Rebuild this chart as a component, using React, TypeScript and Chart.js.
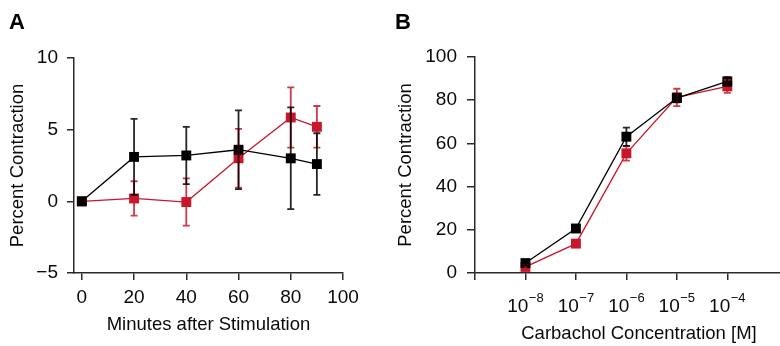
import React, { useEffect, useRef } from "react";
import { Chart, registerables } from "chart.js";

Chart.register(...registerables);

// ---------- Panel A data ----------
const minutes = [0, 20, 40, 60, 80, 90];
const blackA = [0, 3.1, 3.2, 3.6, 3.0, 2.6];
const blackAErr = [0, 2.65, 2.0, 2.75, 3.55, 2.15];
const redA = [0, 0.2, -0.05, 3.0, 5.85, 5.2];
const redAErr = [0, 1.2, 1.65, 2.05, 2.1, 1.45];
const xTicksA = [0, 20, 40, 60, 80, 100];
const yTicksA = [-5, 0, 5, 10];

// ---------- Panel B data ----------
const concExponents = [-8, -7, -6, -5, -4];
const blackB = [4.6, 20.6, 63.1, 81.0, 88.7];
const blackBErr = [1, 1.2, 4.2, 2, 2];
const redB = [2.8, 13.6, 55.4, 81.3, 86.4];
const redBErr = [1, 1.5, 3.4, 4, 3];
const xTicksB = [-9, -8, -7, -6, -5, -4];
const yTicksB = [0, 20, 40, 60, 80, 100];

const FONT = "'Liberation Sans', Arial, Helvetica, sans-serif";
const RED = "#c8162b";
const AXIS = "#2a2a2a";
const TXT = "#0a0a0a";

const toPts = (xs: number[], ys: number[]) => xs.map((x, i) => ({ x, y: ys[i] }));

const errorBarPlugin = (sets: { xs: number[]; ys: number[]; err: number[]; color: string }[]) => ({
  id: "errbars",
  afterDatasetsDraw(chart: any) {
    const { ctx } = chart;
    const xs = chart.scales.x;
    const ys = chart.scales.y;
    ctx.save();
    sets.forEach((s) => {
      ctx.strokeStyle = s.color;
      ctx.lineWidth = 1.8;
      s.xs.forEach((xv, i) => {
        if (!s.err[i]) return;
        const px = xs.getPixelForValue(xv);
        const top = ys.getPixelForValue(s.ys[i] + s.err[i]);
        const bot = ys.getPixelForValue(s.ys[i] - s.err[i]);
        ctx.beginPath();
        ctx.moveTo(px, top);
        ctx.lineTo(px, bot);
        ctx.moveTo(px - 3.5, top);
        ctx.lineTo(px + 3.5, top);
        ctx.moveTo(px - 3.5, bot);
        ctx.lineTo(px + 3.5, bot);
        ctx.stroke();
      });
    });
    ctx.restore();
  },
});

const supLabelsPlugin = {
  id: "supLabels",
  afterDraw(chart: any) {
    const { ctx } = chart;
    const xs = chart.scales.x;
    ctx.save();
    ctx.fillStyle = TXT;
    ctx.textBaseline = "alphabetic";
    ctx.textAlign = "left";
    concExponents.forEach((e) => {
      const base = "10";
      const sup = "\u2212" + Math.abs(e);
      ctx.font = `19px ${FONT}`;
      const wB = ctx.measureText(base).width;
      ctx.font = `13px ${FONT}`;
      const wS = ctx.measureText(sup).width;
      const px = xs.getPixelForValue(e);
      const x0 = px - (wB + wS + 0.5) / 2;
      ctx.font = `19px ${FONT}`;
      ctx.fillText(base, x0, 311.5);
      ctx.font = `13px ${FONT}`;
      ctx.fillText(sup, x0 + wB + 0.5, 301.5);
    });
    ctx.restore();
  },
};

const lineDs = (label: string, data: any[], color: string) => ({
  label,
  data,
  borderColor: color,
  backgroundColor: color,
  borderWidth: 1.3,
  pointStyle: "rect",
  pointRadius: 7,
  pointBorderWidth: 0,
  pointBackgroundColor: color,
  tension: 0,
});

const axisCommon = {
  grid: { display: true, drawOnChartArea: false, drawTicks: true, tickLength: 7, color: AXIS, lineWidth: 1.5 },
  border: { display: true, color: AXIS, width: 1.5 },
};

function PanelA() {
  const ref = useRef<HTMLCanvasElement>(null);
  useEffect(() => {
    const chart = new Chart(ref.current!, {
      type: "line",
      data: {
        datasets: [
          lineDs("Black", toPts(minutes, blackA), "#000"),
          lineDs("Red", toPts(minutes, redA), RED),
        ],
      },
      options: {
        animation: false,
        responsive: false,
        devicePixelRatio: 1,
        layout: { padding: { top: 58, right: 47, bottom: 0, left: 0 } },
        plugins: { legend: { display: false }, tooltip: { enabled: false } },
        scales: {
          x: {
            type: "linear",
            min: -3,
            max: 100,
            afterBuildTicks: (s: any) => { s.ticks = xTicksA.map((v) => ({ value: v })); },
            afterFit: (s: any) => { s.height = 73; },
            ...axisCommon,
            ticks: { color: TXT, font: { size: 19, family: FONT }, padding: 6, maxRotation: 0 },
            title: { display: true, text: "Minutes after Stimulation", color: TXT, font: { size: 18.5, family: FONT }, padding: { top: 0, bottom: 10 } },
          },
          y: {
            min: -5,
            max: 10,
            afterBuildTicks: (s: any) => { s.ticks = yTicksA.map((v) => ({ value: v })); },
            afterFit: (s: any) => { s.width = 74; },
            ...axisCommon,
            ticks: { color: TXT, font: { size: 19, family: FONT }, padding: 9, callback: (v: any) => (v < 0 ? "\u2212" + Math.abs(v) : String(v)) },
            title: { display: true, text: "Percent Contraction", color: TXT, font: { size: 18.5, family: FONT }, padding: { top: 7, bottom: 0 } },
          },
        },
      } as any,
      plugins: [
        errorBarPlugin([
          { xs: minutes, ys: redA, err: redAErr, color: "rgba(200,22,43,0.85)" },
          { xs: minutes, ys: blackA, err: blackAErr, color: "rgba(0,0,0,0.85)" },
        ]),
      ],
    });
    return () => chart.destroy();
  }, []);
  return <canvas ref={ref} width={390} height={346} style={{ position: "absolute", left: 0, top: 0, width: 390, height: 346 }} />;
}

function PanelB() {
  const ref = useRef<HTMLCanvasElement>(null);
  useEffect(() => {
    const chart = new Chart(ref.current!, {
      type: "line",
      data: {
        datasets: [
          lineDs("Black", toPts(concExponents, blackB), "#000"),
          lineDs("Red", toPts(concExponents, redB), RED),
        ],
      },
      options: {
        animation: false,
        responsive: false,
        devicePixelRatio: 1,
        layout: { padding: { top: 57, right: 0, bottom: 0, left: 0 } },
        plugins: { legend: { display: false }, tooltip: { enabled: false } },
        scales: {
          x: {
            type: "linear",
            min: -9,
            max: -2.5,
            afterBuildTicks: (s: any) => { s.ticks = xTicksB.map((v) => ({ value: v })); },
            afterFit: (s: any) => { s.height = 73; },
            ...axisCommon,
            ticks: { display: false },
            title: { display: true, text: "Carbachol Concentration [M]", color: TXT, font: { size: 18.5, family: FONT }, padding: { top: 0, bottom: 1 } },
          },
          y: {
            min: 0,
            max: 100,
            afterBuildTicks: (s: any) => { s.ticks = yTicksB.map((v) => ({ value: v })); },
            afterFit: (s: any) => { s.width = 85; },
            ...axisCommon,
            grid: { ...axisCommon.grid, tickLength: 8 },
            ticks: { color: TXT, font: { size: 19, family: FONT }, padding: 10 },
            title: { display: true, text: "Percent Contraction", color: TXT, font: { size: 18.5, family: FONT }, padding: { top: 5, bottom: 0 } },
          },
        },
      } as any,
      plugins: [
        errorBarPlugin([
          { xs: concExponents, ys: redB, err: redBErr, color: "rgba(200,22,43,0.85)" },
          { xs: concExponents, ys: blackB, err: blackBErr, color: "rgba(0,0,0,0.85)" },
        ]),
        supLabelsPlugin,
      ],
    });
    return () => chart.destroy();
  }, []);
  return <canvas ref={ref} width={420} height={346} style={{ position: "absolute", left: 390, top: 0, width: 420, height: 346 }} />;
}

export default function App() {
  const label = { position: "absolute" as const, top: 11, fontFamily: FONT, fontWeight: 700, fontSize: 22, lineHeight: "22px", color: "#000" };
  return (
    <div style={{ position: "fixed", left: 0, top: 0, width: 780, height: 346, overflow: "hidden", background: "#fff" }}>
      <PanelA />
      <PanelB />
      <div style={{ ...label, left: 9 }}>A</div>
      <div style={{ ...label, left: 395 }}>B</div>
    </div>
  );
}
